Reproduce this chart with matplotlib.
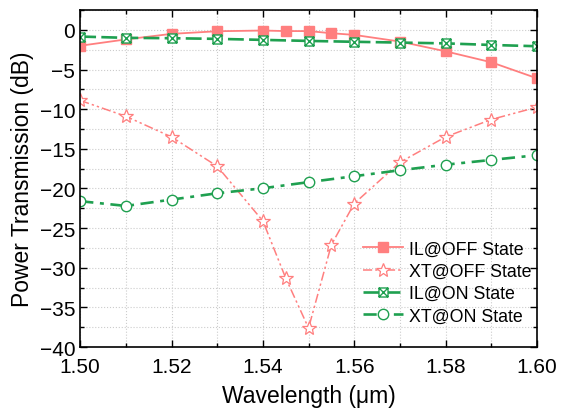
import matplotlib
matplotlib.use('Agg')
import matplotlib.pyplot as plt
from matplotlib.ticker import MultipleLocator
from matplotlib.path import Path

plt.rcParams['font.family'] = ['Liberation Sans', 'DejaVu Sans']

# wavelengths (um)
wl_fine = [1.50, 1.51, 1.52, 1.53, 1.54, 1.545, 1.55, 1.555, 1.56, 1.57, 1.58, 1.59, 1.60]
wl = [1.50, 1.51, 1.52, 1.53, 1.54, 1.55, 1.56, 1.57, 1.58, 1.59, 1.60]

# power transmission (dB)
il_off = [-2.0, -1.2, -0.5, -0.17, -0.08, -0.15, -0.15, -0.42, -0.63, -1.47, -2.7, -4.08, -6.1]
xt_off = [-8.9, -10.9, -13.5, -17.2, -24.1, -31.3, -37.6, -27.1, -21.9, -16.7, -13.5, -11.3, -9.75]
il_on = [-0.84, -1.0, -1.05, -1.13, -1.26, -1.39, -1.5, -1.6, -1.7, -1.9, -2.06]
xt_on = [-21.6, -22.2, -21.4, -20.6, -19.97, -19.2, -18.45, -17.7, -17.0, -16.4, -15.8]

red = '#FF7F7F'
green = '#1FA050'

# square with an X inside (Origin style marker)
box_x = Path([(-1, -1), (1, -1), (1, 1), (-1, 1), (-1, -1),
              (-1, -1), (1, 1), (-1, 1), (1, -1)],
             [Path.MOVETO, Path.LINETO, Path.LINETO, Path.LINETO, Path.CLOSEPOLY,
              Path.MOVETO, Path.LINETO, Path.MOVETO, Path.LINETO])

fig = plt.figure(figsize=(5.61, 4.10), dpi=100)
ax = fig.add_axes([0.143, 0.151, 0.814, 0.822])

ax.plot(wl_fine, il_off, color=red, ls='-', lw=1.3, marker='s', ms=6.5,
        label='IL@OFF State')
ax.plot(wl_fine, xt_off, color=red, ls=(0, (6, 2, 1.5, 2, 1.5, 2)), lw=1.1,
        marker='*', ms=10, mfc='white', mew=0.9, label='XT@OFF State')
ax.plot(wl, il_on, color=green, ls=(0, (6, 2)), lw=1.9, marker=box_x,
        ms=6.5, mfc='white', mew=1.0, label='IL@ON State')
ax.plot(wl, xt_on, color=green, ls=(0, (5, 2.5, 1.5, 2.5)), lw=1.9,
        marker='o', ms=7.5, mfc='white', mew=1.0, label='XT@ON State')

ax.set_xlim(1.50, 1.60)
ax.set_ylim(-40, 2.5)
ax.xaxis.set_major_locator(MultipleLocator(0.02))
ax.xaxis.set_minor_locator(MultipleLocator(0.01))
ax.yaxis.set_major_locator(MultipleLocator(5))
ax.yaxis.set_minor_locator(MultipleLocator(2.5))
ax.xaxis.set_major_formatter(plt.FormatStrFormatter('%.2f'))

ax.grid(True, which='both', color='#CCCCCC', ls=':', lw=0.8)
ax.tick_params(which='both', direction='in', top=True, right=True, labelsize=15)
ax.tick_params(which='major', length=5, width=1)
ax.tick_params(which='minor', length=3, width=1)
ax.tick_params(axis='x', pad=7)
for s in ax.spines.values():
    s.set_linewidth(1.2)

ax.set_xlabel('Wavelength (\u03bcm)', fontsize=16.5, labelpad=6)
ax.set_ylabel('Power Transmission (dB)', fontsize=16.5)

ax.legend(loc='lower right', frameon=False, fontsize=12.8, handlelength=2.3,
          handletextpad=0.3, labelspacing=0.3, borderpad=0.2,
          bbox_to_anchor=(1.015, 0.03))

fig.savefig('out.png', dpi=100)
